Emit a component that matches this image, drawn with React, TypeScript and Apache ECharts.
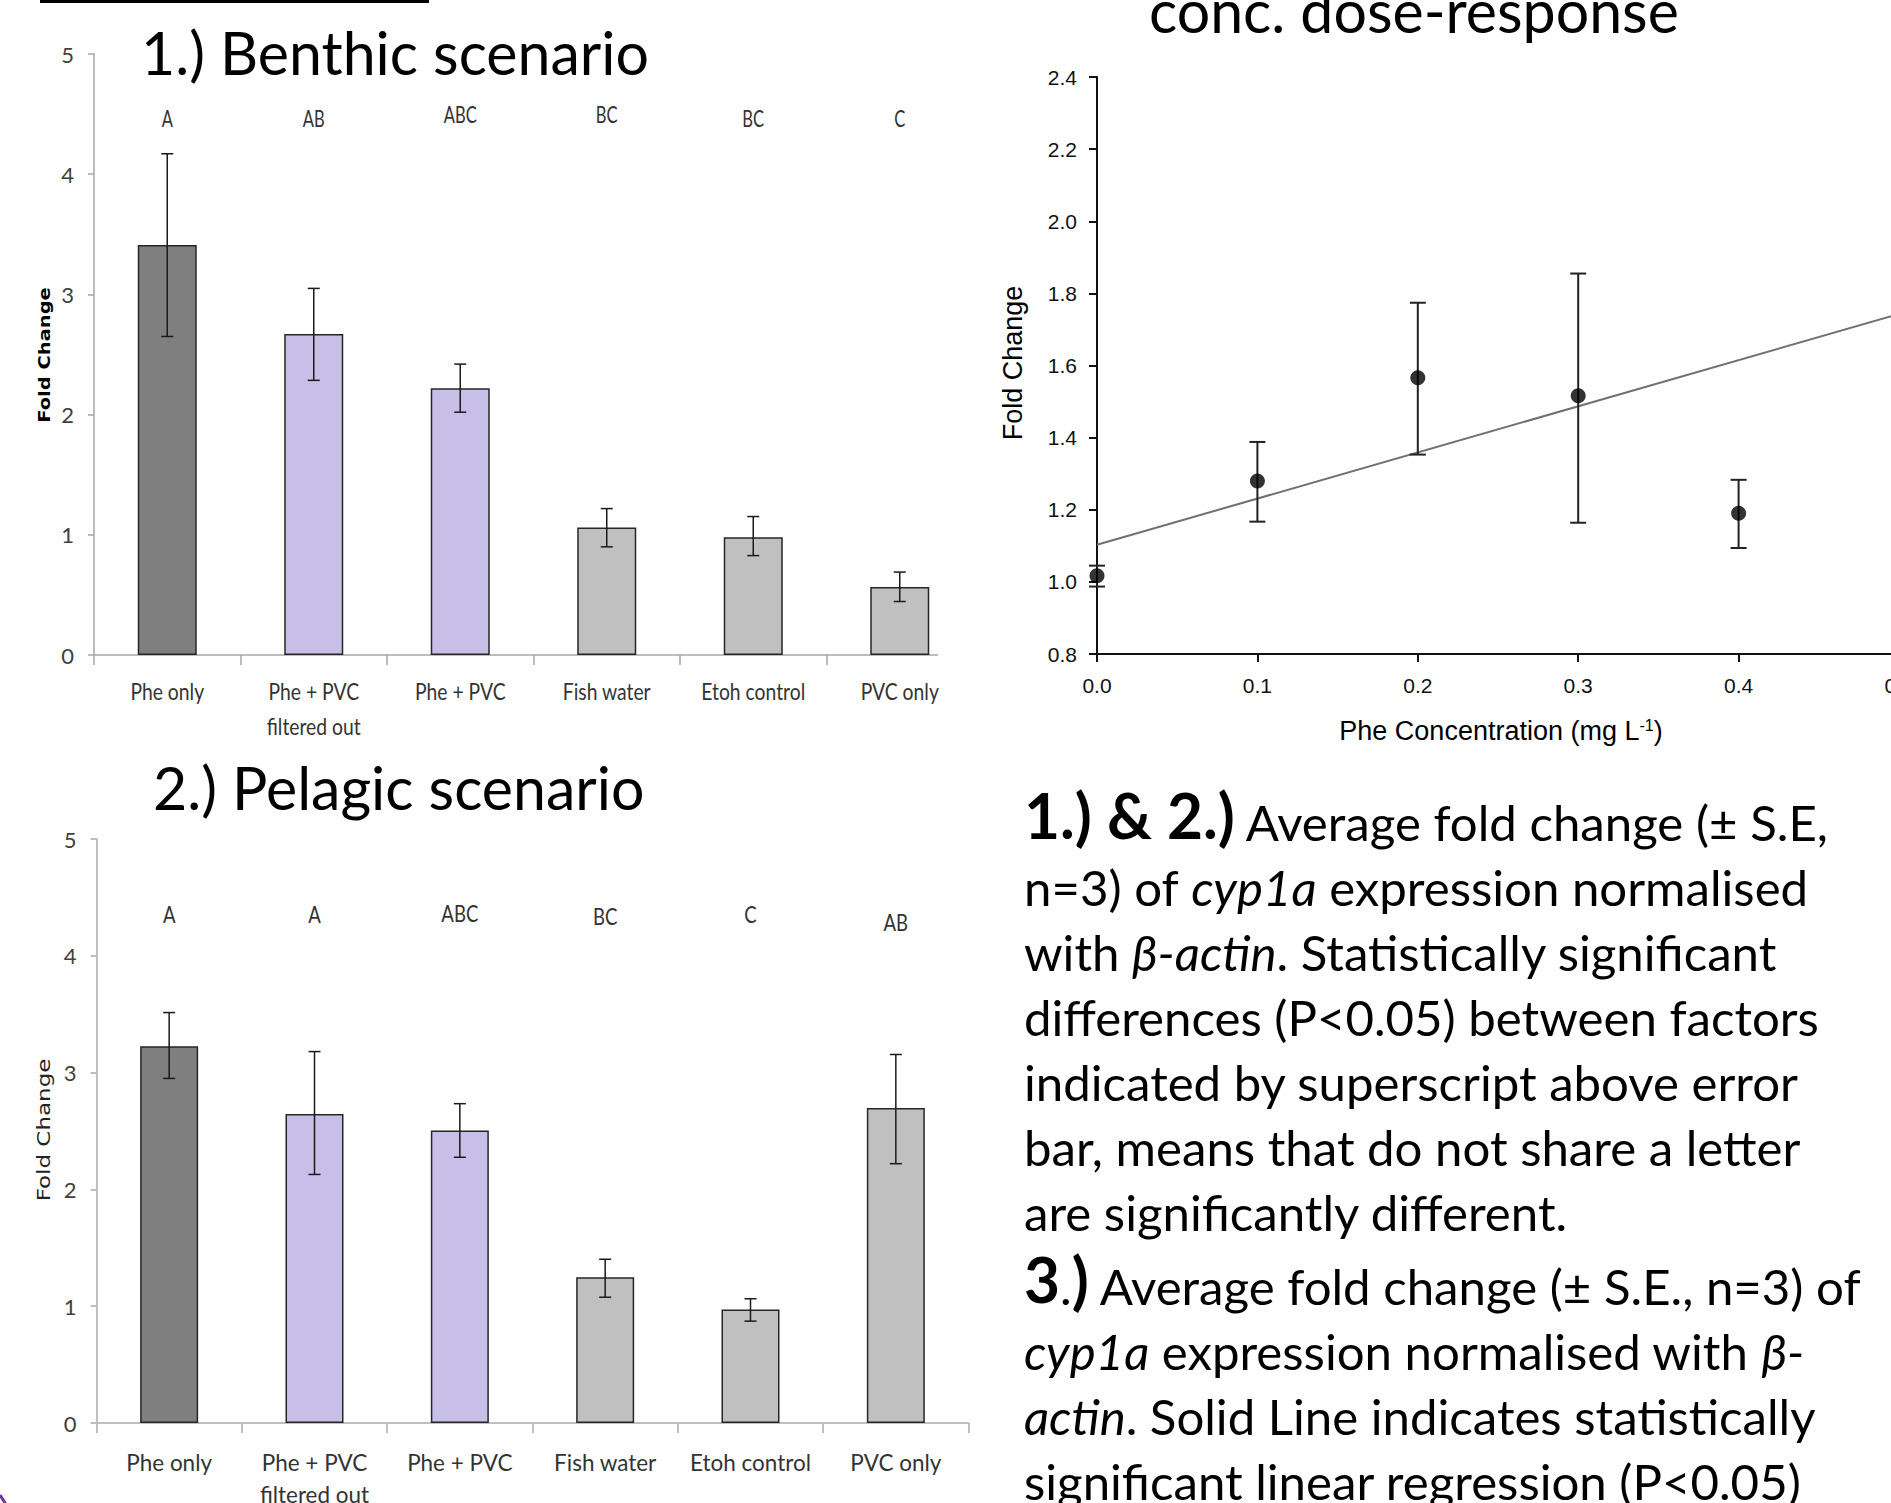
import React, { useEffect, useRef } from 'react';
import * as echarts from 'echarts';

// ---------- DATA ----------
const categories = ['Phe only', 'Phe + PVC\nfiltered out', 'Phe + PVC', 'Fish water', 'Etoh control', 'PVC only'];

const benthicMean = [3.41, 2.67, 2.22, 1.06, 0.98, 0.566];
const benthicLow = [2.65, 2.285, 2.02, 0.9, 0.827, 0.445];
const benthicHigh = [4.17, 3.05, 2.42, 1.218, 1.152, 0.69];
const benthicLetters = ['A', 'AB', 'ABC', 'BC', 'BC', 'C'];
const benthicLetterY = [4.47, 4.47, 4.5, 4.5, 4.47, 4.47];

const pelagicMean = [3.226, 2.646, 2.504, 1.248, 0.972, 2.696];
const pelagicLow = [2.95, 2.128, 2.275, 1.077, 0.872, 2.22];
const pelagicHigh = [3.514, 3.18, 2.734, 1.402, 1.064, 3.155];
const pelagicLetters = ['A', 'A', 'ABC', 'BC', 'C', 'AB'];
const pelagicLetterY = [4.36, 4.36, 4.37, 4.34, 4.36, 4.29];

const doseX = [0, 0.1, 0.2, 0.3, 0.4];
const doseMean = [1.017, 1.28, 1.566, 1.516, 1.19];
const doseLow = [0.987, 1.167, 1.353, 1.164, 1.094];
const doseHigh = [1.045, 1.388, 1.774, 1.855, 1.283];
const regressionLine = [
  [0, 1.103],
  [0.5, 1.743],
];

const barColors = ['#7f7f7f', '#c7bfe7', '#c7bfe7', '#c0c0c0', '#c0c0c0', '#c0c0c0'];

// ---------- TEXT ----------
const bodyLines: [string, string][][] = [
  [['b', '1.) & 2.)'], ['r', ' Average fold change (± S.E,']],
  [['r', 'n=3) of '], ['i', 'cyp1a'], ['r', ' expression normalised']],
  [['r', 'with '], ['i', 'β-actin'], ['r', '. Statistically significant']],
  [['r', 'differences (P<0.05) between factors']],
  [['r', 'indicated by superscript above error']],
  [['r', 'bar, means that do not share a letter']],
  [['r', 'are significantly different.']],
  [['b', '3'], ['r', '.'], ['b', ')'], ['r', ' Average fold change (± S.E., n=3) of']],
  [['i', 'cyp1a'], ['r', ' expression normalised with '], ['i', 'β-']],
  [['i', 'actin'], ['r', '. Solid Line indicates statistically']],
  [['r', 'significant linear regression (P<0.05)']],
];
const bodyBaselines = [840, 905, 970, 1035, 1100, 1165, 1230, 1304, 1369, 1434, 1499];

const CONDENSED = '"Liberation Sans Narrow", "DejaVu Sans Condensed", sans-serif';
const ARIAL = '"Liberation Sans", Arial, sans-serif';
const CAL = 'Lato';

function measure(text: string, family: string, weight: string, size: number) {
  const ctx = document.createElement('canvas').getContext('2d')!;
  ctx.font = `${weight} ${size}px ${family}`;
  return ctx.measureText(text).width;
}
function fitSize(text: string, family: string, weight: string, target: number) {
  return (100 * target) / measure(text, family, weight, 100);
}

function errorSeries(axisIndex: number, xs: number[], low: number[], high: number[], capHalf: number, lw: number, color: string) {
  return {
    type: 'custom',
    xAxisIndex: axisIndex,
    yAxisIndex: axisIndex,
    z: 5,
    silent: true,
    data: xs.map((x, i) => [x, low[i], high[i]]),
    encode: { x: 0, y: [1, 2] },
    renderItem: (params: any, api: any) => {
      const x = api.value(0);
      const lo = api.coord([x, api.value(1)]);
      const hi = api.coord([x, api.value(2)]);
      const st = { stroke: color, lineWidth: lw };
      return {
        type: 'group',
        children: [
          { type: 'line', shape: { x1: hi[0], y1: hi[1], x2: lo[0], y2: lo[1] }, style: st },
          { type: 'line', shape: { x1: hi[0] - capHalf, y1: hi[1], x2: hi[0] + capHalf, y2: hi[1] }, style: st },
          { type: 'line', shape: { x1: lo[0] - capHalf, y1: lo[1], x2: lo[0] + capHalf, y2: lo[1] }, style: st },
        ],
      };
    },
  };
}

const LBL_SIZE = 24;

function letterSeries(axisIndex: number, letters: string[], ys: number[], sx: number) {
  return {
    type: 'custom',
    xAxisIndex: axisIndex,
    yAxisIndex: axisIndex,
    silent: true,
    clip: false,
    data: ys.map((y, i) => [i, y]),
    encode: { x: 0, y: 1 },
    renderItem: (params: any, api: any) => {
      const p = api.coord([api.value(0), api.value(1)]);
      return {
        type: 'text',
        x: p[0],
        y: p[1],
        scaleX: sx,
        style: {
          text: letters[params.dataIndex],
          fontSize: LBL_SIZE,
          fontFamily: CAL,
          fill: '#333',
          align: 'center',
          verticalAlign: 'middle',
        },
      };
    },
  };
}

// category labels placed under the category axis through the axis scale
function categoryLabelSeries(axisIndex: number, sx: number, firstOffset: number, lineH: number) {
  return {
    type: 'custom',
    xAxisIndex: axisIndex,
    yAxisIndex: axisIndex,
    silent: true,
    clip: false,
    data: categories.map((_, i) => [i, 0]),
    encode: { x: 0, y: 1 },
    renderItem: (params: any, api: any) => {
      const p = api.coord([api.value(0), 0]);
      const lines = categories[params.dataIndex].split('\n');
      return {
        type: 'group',
        children: lines.map((t, j) => ({
          type: 'text',
          x: p[0],
          y: p[1] + firstOffset + j * lineH,
          scaleX: sx,
          style: {
            text: t,
            fontSize: LBL_SIZE,
            fontFamily: CAL,
            fill: '#333',
            align: 'center',
            verticalAlign: 'middle',
          },
        })),
      };
    },
  };
}

function barAxes(gridIndex: number, axisColor: string, axisWidth: number) {
  const line = { color: axisColor, width: axisWidth };
  return {
    x: {
      gridIndex,
      type: 'category',
      data: categories,
      boundaryGap: true,
      axisLine: { show: true, lineStyle: line },
      axisTick: { show: true, length: 10, lineStyle: line, alignWithLabel: false },
      axisLabel: { show: false },
      splitLine: { show: false },
    },
    y: {
      gridIndex,
      type: 'value',
      min: 0,
      max: 5,
      interval: 1,
      axisLine: { show: true, lineStyle: line },
      axisTick: { show: true, length: 6, lineStyle: line },
      axisLabel: { color: '#404040', fontSize: 22, fontFamily: CAL, margin: 20 },
      splitLine: { show: false },
    },
  };
}

function buildOption() {
  const ts = fitSize('1.) Benthic scenario', CAL, 'normal', 508);
  const bs = fitSize('differences (P<0.05) between factors', CAL, 'normal', 795);
  const bb = fitSize('1.) & 2.)', CAL, 'bold', 211);
  const cOff = 0.387;

  const etohW = measure('Etoh control', CAL, 'normal', LBL_SIZE);
  const sx1 = 104 / etohW;
  const sx2 = 121 / etohW;
  const abcW = measure('ABC', CAL, 'normal', LBL_SIZE);
  const lx1 = 33 / abcW;
  const lx2 = 37 / abcW;

  const a1 = barAxes(0, '#a6a6a6', 1.5);
  const a2 = barAxes(1, '#bfbfbf', 2);

  const richBase = { fontFamily: CAL, fontSize: bs, fill: '#000', verticalAlign: 'bottom' };
  const rich = {
    r: { ...richBase },
    b: { ...richBase, fontSize: bb, fontWeight: 'bold' },
    i: { ...richBase, fontStyle: 'italic' },
  };

  const bodyGraphics = bodyLines.map((segs, k) => ({
    type: 'text',
    x: 1024,
    y: bodyBaselines[k] + (0.5 - cOff) * bs,
    style: {
      text: segs.map(([s, t]) => `{${s}|${t}}`).join(''),
      rich,
      fontFamily: CAL,
      fontSize: bs,
      fill: '#000',
      align: 'left',
      verticalAlign: 'bottom',
    },
  }));

  const titleStyle = (text: string) => ({
    text,
    fontFamily: CAL,
    fontSize: ts,
    fill: '#000',
    align: 'left',
    verticalAlign: 'middle',
  });

  return {
    animation: false,
    backgroundColor: '#fff',
    grid: [
      { left: 94, top: 54, width: 879, height: 601, outerBoundsMode: 'none' },
      { left: 96.5, top: 839, width: 872, height: 584, outerBoundsMode: 'none' },
      { left: 1097, top: 77, width: 802, height: 577, outerBoundsMode: 'none' },
    ],
    xAxis: [
      a1.x,
      a2.x,
      {
        gridIndex: 2,
        type: 'value',
        min: 0,
        max: 0.5,
        interval: 0.1,
        axisLine: { show: true, onZero: false, lineStyle: { color: '#111', width: 2 } },
        axisTick: { show: true, length: 8, lineStyle: { color: '#111', width: 2 } },
        axisLabel: {
          color: '#111',
          fontSize: 21,
          fontFamily: ARIAL,
          margin: 21,
          formatter: (v: number) => v.toFixed(1),
        },
        splitLine: { show: false },
      },
    ],
    yAxis: [
      a1.y,
      a2.y,
      {
        gridIndex: 2,
        type: 'value',
        min: 0.8,
        max: 2.4,
        interval: 0.2,
        axisLine: { show: true, onZero: false, lineStyle: { color: '#111', width: 2 } },
        axisTick: { show: true, length: 8, lineStyle: { color: '#111', width: 2 } },
        axisLabel: {
          color: '#111',
          fontSize: 21,
          fontFamily: ARIAL,
          margin: 20,
          formatter: (v: number) => v.toFixed(1),
        },
        splitLine: { show: false },
      },
    ],
    series: [
      {
        type: 'bar',
        xAxisIndex: 0,
        yAxisIndex: 0,
        data: benthicMean,
        barWidth: 59,
        itemStyle: {
          color: (p: any) => barColors[p.dataIndex],
          borderColor: '#262626',
          borderWidth: 1.5,
        },
      },
      errorSeries(0, benthicMean.map((_, i) => i), benthicLow, benthicHigh, 6, 1.5, '#1a1a1a'),
      letterSeries(0, benthicLetters, benthicLetterY, lx1),
      categoryLabelSeries(0, sx1, 36, 35),
      {
        type: 'bar',
        xAxisIndex: 1,
        yAxisIndex: 1,
        data: pelagicMean,
        barWidth: 58,
        itemStyle: {
          color: (p: any) => barColors[p.dataIndex],
          borderColor: '#262626',
          borderWidth: 1.5,
        },
      },
      errorSeries(1, pelagicMean.map((_, i) => i), pelagicLow, pelagicHigh, 6, 1.5, '#1a1a1a'),
      letterSeries(1, pelagicLetters, pelagicLetterY, lx2),
      categoryLabelSeries(1, sx2, 39, 32),
      {
        type: 'line',
        xAxisIndex: 2,
        yAxisIndex: 2,
        data: regressionLine,
        showSymbol: false,
        symbol: 'none',
        z: 1,
        lineStyle: { color: '#707070', width: 2 },
      },
      errorSeries(2, doseX, doseLow, doseHigh, 8, 2, '#222'),
      {
        type: 'scatter',
        xAxisIndex: 2,
        yAxisIndex: 2,
        z: 6,
        data: doseX.map((x, i) => [x, doseMean[i]]),
        symbol: 'circle',
        symbolSize: 15,
        itemStyle: { color: '#000' },
      },
    ],
    graphic: [
      { type: 'rect', shape: { x: 40, y: 0, width: 389, height: 3 }, style: { fill: '#000' } },
      { type: 'rect', z: 100, shape: { x: 938, y: 640, width: 50, height: 30 }, style: { fill: '#fff' } },
      { type: 'text', x: 141, y: 75 - cOff * ts, style: titleStyle('1.) Benthic scenario') },
      { type: 'text', x: 153, y: 810 - cOff * ts, style: titleStyle('2.) Pelagic scenario') },
      { type: 'text', x: 1149, y: 33 - cOff * ts, style: titleStyle('conc. dose-response') },
      {
        type: 'text',
        x: 45,
        y: 355,
        rotation: Math.PI / 2,
        scaleY: 0.78,
        style: {
          text: 'Fold Change',
          fontFamily: '"DejaVu Sans"',
          fontWeight: 'bold',
          fontSize: 19.5,
          fill: '#000',
          align: 'center',
          verticalAlign: 'middle',
        },
      },
      {
        type: 'text',
        x: 44,
        y: 1130,
        rotation: Math.PI / 2,
        scaleY: 0.78,
        style: {
          text: 'Fold Change',
          fontFamily: '"DejaVu Sans"',
          fontSize: 23,
          fill: '#222',
          align: 'center',
          verticalAlign: 'middle',
        },
      },
      {
        type: 'text',
        x: 1013,
        y: 363,
        rotation: Math.PI / 2,
        style: {
          text: 'Fold Change',
          fontFamily: ARIAL,
          fontSize: 27,
          fill: '#000',
          align: 'center',
          verticalAlign: 'middle',
        },
      },
      {
        type: 'text',
        x: 1501,
        y: 731,
        style: {
          text: '{a|Phe Concentration (mg L}{s|-1}{a|)}',
          rich: {
            a: { fontFamily: ARIAL, fontSize: 27, fill: '#000' },
            s: { fontFamily: ARIAL, fontSize: 16, fill: '#000', verticalAlign: 'top' },
          },
          fontFamily: ARIAL,
          fontSize: 27,
          fill: '#000',
          align: 'center',
          verticalAlign: 'middle',
        },
      },
      ...bodyGraphics,
      {
        type: 'line',
        shape: { x1: 0, y1: 1495, x2: 7, y2: 1506 },
        style: { stroke: '#7030a0', lineWidth: 3 },
      },
    ],
  };
}

export default function App() {
  const ref = useRef<HTMLDivElement>(null);
  useEffect(() => {
    const chart = echarts.init(ref.current!, undefined, { renderer: 'svg' });
    chart.setOption(buildOption() as any);
    return () => chart.dispose();
  }, []);
  return (
    <div
      ref={ref}
      style={{ position: 'absolute', left: 0, top: 0, width: 1891, height: 1503, background: '#fff', overflow: 'hidden' }}
    />
  );
}
